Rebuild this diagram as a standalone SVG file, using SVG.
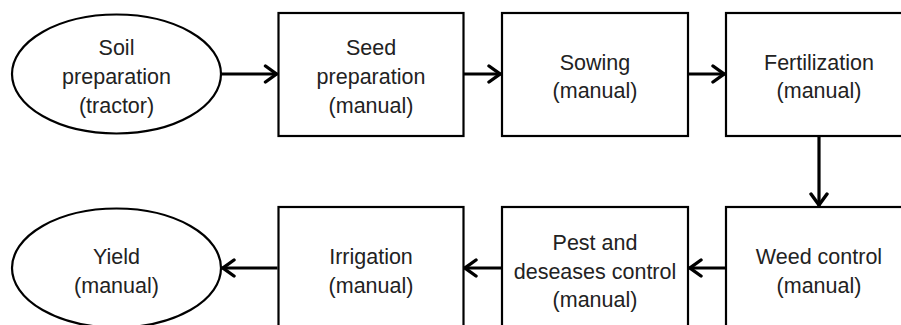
<svg xmlns="http://www.w3.org/2000/svg" width="901" height="325" viewBox="0 0 901 325">
<defs>
<style>
.n{fill:#fff;stroke:#000;stroke-width:2.2}
.t{font-family:"Liberation Sans",Arial,sans-serif;font-size:21.5px;fill:#222;text-anchor:middle}
.c{stroke:#000;stroke-width:3.2;fill:none;marker-end:url(#ah)}
</style>
<marker id="ah" viewBox="0 0 16 20" refX="15" refY="10" markerWidth="16" markerHeight="20" markerUnits="userSpaceOnUse" orient="auto">
<path d="M3,2 L14,10 L3,18" fill="none" stroke="#000" stroke-width="3.4" stroke-linecap="round" stroke-linejoin="miter"/>
</marker>
</defs>
<rect width="901" height="325" fill="#fff"/>
<g id="connectors">
<line class="c" x1="222" y1="74" x2="277.5" y2="74"/>
<line class="c" x1="464" y1="74" x2="501" y2="74"/>
<line class="c" x1="689" y1="74" x2="725" y2="74"/>
<line class="c" x1="819" y1="137" x2="819" y2="206"/>
<line class="c" x1="725" y1="268" x2="689" y2="268"/>
<line class="c" x1="501" y1="268" x2="464" y2="268"/>
<line class="c" x1="277.5" y1="268" x2="222" y2="268"/>
</g>
<g id="soil">
<ellipse class="n" cx="116.5" cy="74" rx="104.5" ry="59.5"/>
<text class="t" x="116.5" y="55">Soil</text>
<text class="t" x="116.5" y="84">preparation</text>
<text class="t" x="116.5" y="113">(tractor)</text>
</g>
<g id="seed">
<rect class="n" x="278.5" y="13" width="185" height="123"/>
<text class="t" x="371" y="55">Seed</text>
<text class="t" x="371" y="84">preparation</text>
<text class="t" x="371" y="113">(manual)</text>
</g>
<g id="sowing">
<rect class="n" x="502" y="13" width="186" height="123"/>
<text class="t" x="595" y="70">Sowing</text>
<text class="t" x="595" y="98">(manual)</text>
</g>
<g id="fert">
<rect class="n" x="726" y="13" width="186" height="123"/>
<text class="t" x="819" y="70">Fertilization</text>
<text class="t" x="819" y="98">(manual)</text>
</g>
<g id="weed">
<rect class="n" x="726" y="207" width="186" height="130"/>
<text class="t" x="819" y="264">Weed control</text>
<text class="t" x="819" y="293">(manual)</text>
</g>
<g id="pest">
<rect class="n" x="502" y="207" width="186" height="130"/>
<text class="t" x="595" y="250">Pest and</text>
<text class="t" x="595" y="279">deseases control</text>
<text class="t" x="595" y="307">(manual)</text>
</g>
<g id="irrigation">
<rect class="n" x="278.5" y="207" width="185" height="130"/>
<text class="t" x="371" y="264">Irrigation</text>
<text class="t" x="371" y="293">(manual)</text>
</g>
<g id="yield">
<ellipse class="n" cx="116.5" cy="268" rx="104.5" ry="59.5"/>
<text class="t" x="116.5" y="264">Yield</text>
<text class="t" x="116.5" y="293">(manual)</text>
</g>
</svg>
